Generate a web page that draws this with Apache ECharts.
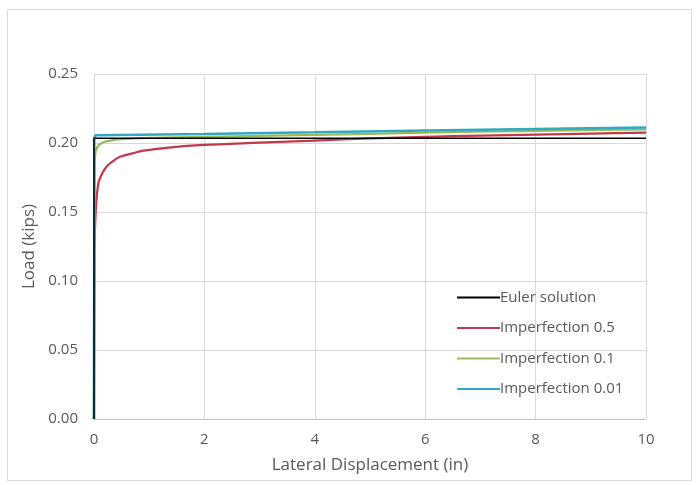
<!DOCTYPE html>
<html>
<head>
<meta charset="utf-8">
<script src="https://cdn.jsdelivr.net/npm/echarts@6/dist/echarts.min.js"></script>
<style>html,body{margin:0;padding:0;background:#fff;}#c{width:699px;height:485px;}</style>
</head>
<body>
<div id="c"></div>
<script>
// Data
var seriesNames = ['Euler solution', 'Imperfection 0.5', 'Imperfection 0.1', 'Imperfection 0.01'];
var eulerX = [0, 0, 10];
var eulerY = [0, 0.2035, 0.2035];
var imp05X = [0, 0.01, 0.03, 0.08, 0.15, 0.23, 0.35, 0.47, 0.7, 0.9, 1.4, 2, 3, 4, 5, 6, 7, 8, 9, 10];
var imp05Y = [0, 0.12, 0.15, 0.171, 0.178, 0.183, 0.187, 0.190, 0.1925, 0.1944, 0.1969, 0.1986, 0.2002, 0.2018, 0.2033, 0.2045, 0.2053, 0.2061, 0.2068, 0.2075];
var imp01X = [0, 0.01, 0.03, 0.06, 0.1, 0.2, 0.4, 0.7, 1, 2, 4, 6, 8, 10];
var imp01Y = [0, 0.185, 0.194, 0.197, 0.199, 0.201, 0.2025, 0.2033, 0.2037, 0.2045, 0.2058, 0.2075, 0.2088, 0.2099];
var imp001X = [0, 0.005, 0.03, 2, 4, 6, 8, 10];
var imp001Y = [0, 0.204, 0.2056, 0.2065, 0.2077, 0.209, 0.2101, 0.2112];
var xTicks = [0, 2, 4, 6, 8, 10];
var yTicks = [0, 0.05, 0.10, 0.15, 0.20, 0.25];

function pairs(xs, ys) { return xs.map(function (x, i) { return [x, ys[i]]; }); }

var font = '"Open Sans", Lato, sans-serif';
var txt = '#595959';
var chart = echarts.init(document.getElementById('c'));
chart.setOption({
  animation: false,
  backgroundColor: '#fff',
  graphic: [{
    type: 'rect', shape: { x: 7.5, y: 9.5, width: 684, height: 471 },
    style: { fill: 'none', stroke: '#d9d9d9', lineWidth: 1 }, silent: true
  }],
  grid: { left: 94, right: 53, top: 74, bottom: 66 },
  legend: {
    orient: 'vertical', left: 452, top: 285, itemGap: 15.5,
    itemWidth: 43, itemHeight: 2, icon: 'rect',
    textStyle: { fontFamily: font, fontSize: 15, color: txt, padding: [0, 0, 0, -5] },
    data: seriesNames
  },
  xAxis: {
    type: 'value', min: xTicks[0], max: xTicks[xTicks.length - 1], interval: 2,
    name: 'Lateral Displacement (in)', nameLocation: 'middle', nameGap: 38,
    nameTextStyle: { fontFamily: font, fontSize: 17, color: txt },
    axisLine: { show: true, lineStyle: { color: '#bfbfbf', width: 1 } },
    axisTick: { show: false },
    axisLabel: { fontFamily: font, fontSize: 15, color: txt, margin: 13 },
    splitLine: { show: true, lineStyle: { color: '#d9d9d9', width: 1 } }
  },
  yAxis: {
    type: 'value', min: yTicks[0], max: yTicks[yTicks.length - 1], interval: 0.05,
    name: 'Load (kips)', nameLocation: 'middle', nameGap: 54, nameRotate: 90,
    nameTextStyle: { fontFamily: font, fontSize: 17, color: txt },
    axisLine: { show: false }, axisTick: { show: false },
    axisLabel: { fontFamily: font, fontSize: 15, color: txt, margin: 16,
      formatter: function (v) { return v.toFixed(2); } },
    splitLine: { show: true, lineStyle: { color: '#d9d9d9', width: 1 } }
  },
  series: [
    { name: seriesNames[0], type: 'line', data: pairs(eulerX, eulerY), showSymbol: false, symbol: 'none', z: 5,
      lineStyle: { color: '#000000', width: 1.5 }, itemStyle: { color: '#000000' } },
    { name: seriesNames[1], type: 'line', data: pairs(imp05X, imp05Y), showSymbol: false, symbol: 'none', smooth: 0.3, z: 2,
      lineStyle: { color: '#C0394D', width: 2.25 }, itemStyle: { color: '#C0394D' } },
    { name: seriesNames[2], type: 'line', data: pairs(imp01X, imp01Y), showSymbol: false, symbol: 'none', smooth: 0.3, z: 3,
      lineStyle: { color: '#9BBB59', width: 2.25 }, itemStyle: { color: '#9BBB59' } },
    { name: seriesNames[3], type: 'line', data: pairs(imp001X, imp001Y), showSymbol: false, symbol: 'none', z: 4,
      lineStyle: { color: '#31A9C4', width: 2.5 }, itemStyle: { color: '#31A9C4' } }
  ]
});
</script>
</body>
</html>
